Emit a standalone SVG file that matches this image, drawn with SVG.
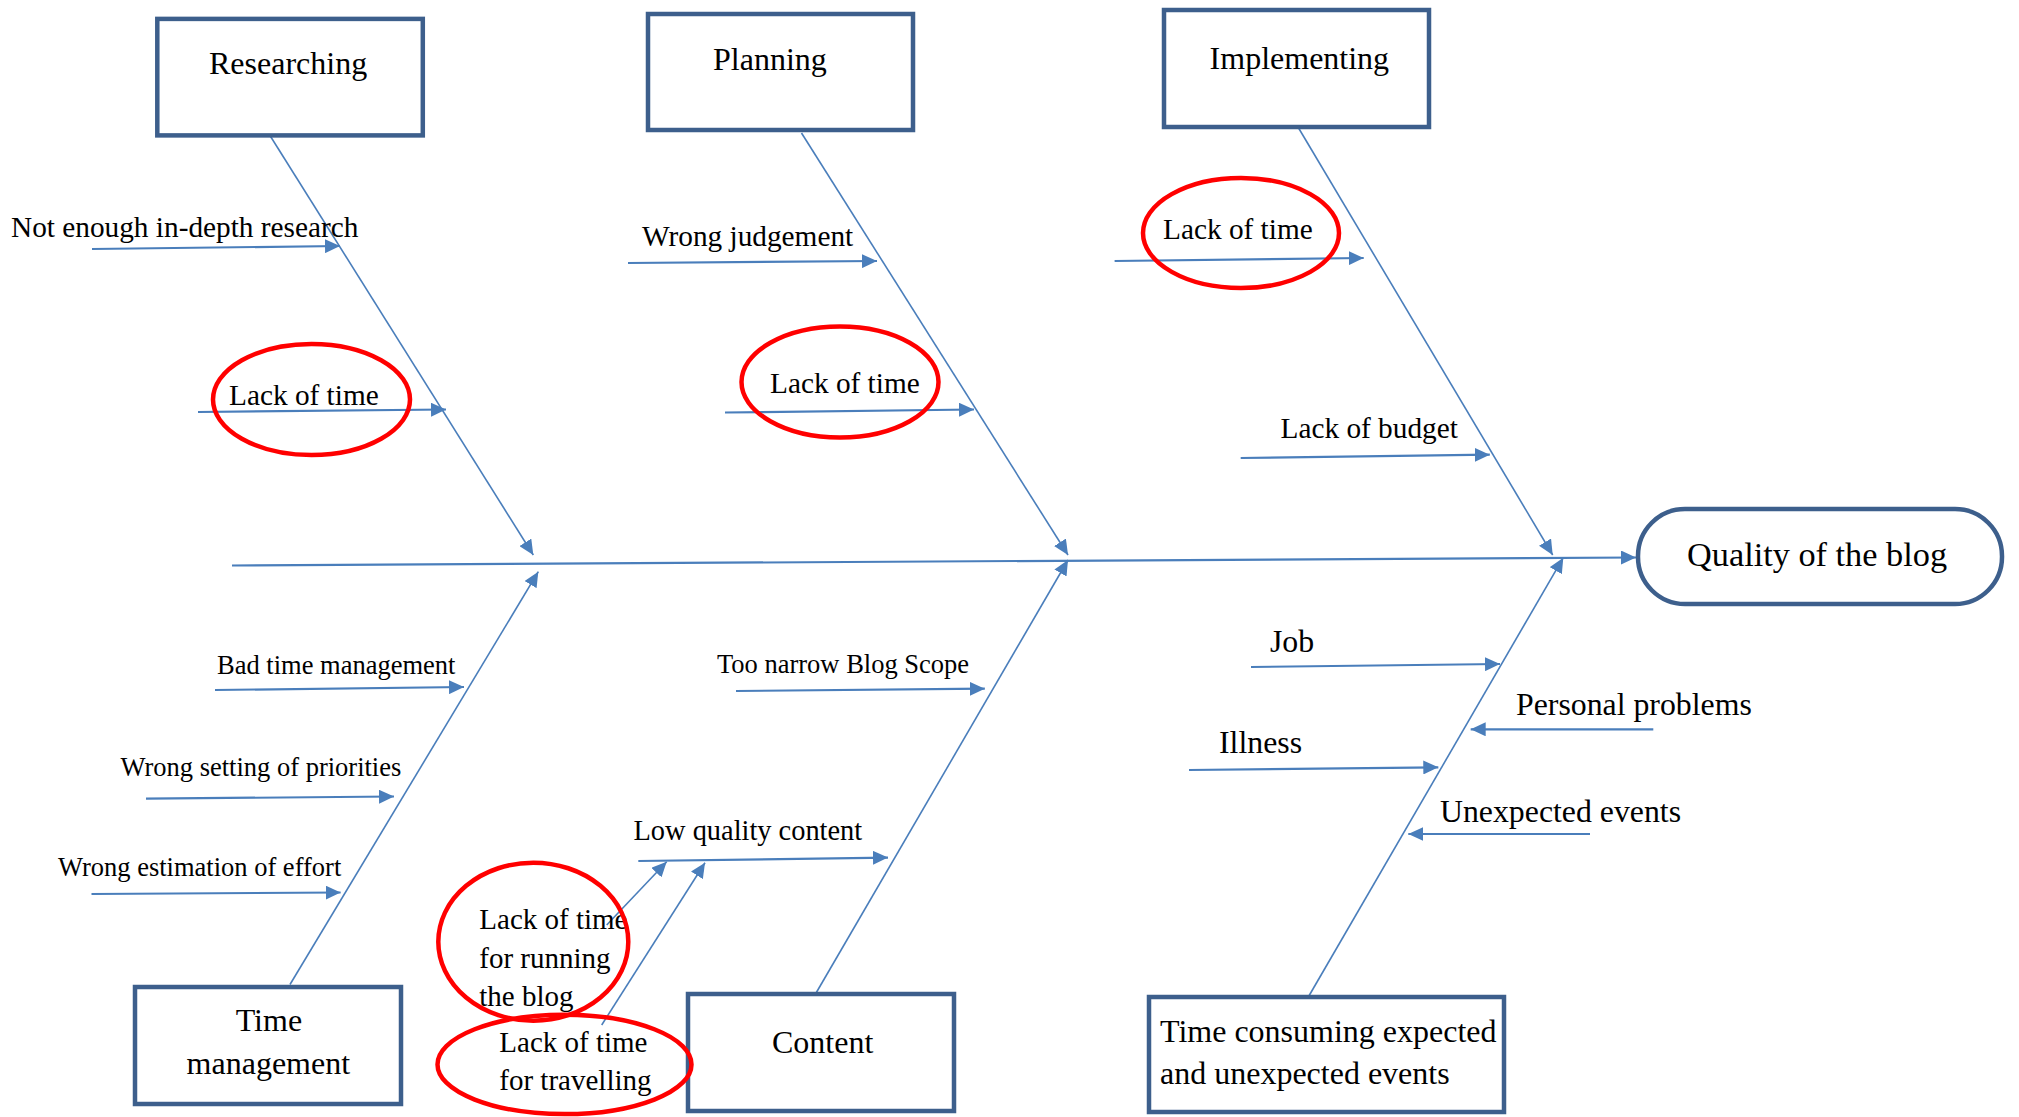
<svg xmlns="http://www.w3.org/2000/svg" width="2019" height="1117" viewBox="0 0 2019 1117">
<style>
.box{fill:#fff;stroke:#3D5F8C;stroke-width:4.5}
.lbl{font-family:"Liberation Serif","Times New Roman",serif;fill:#000}
.b32{font-size:32px}
.c29{font-size:29.3px}
.c26{font-size:26.5px}
.c32{font-size:31.8px}
.br{stroke:#4A7EBB;stroke-width:1.6;fill:none;marker-end:url(#ah)}
.ar{stroke:#4A7EBB;stroke-width:2.2;fill:none;marker-end:url(#ah)}
.red{fill:none;stroke:#FF0000;stroke-width:4.5}
</style>
<defs>
<marker id="ah" markerUnits="userSpaceOnUse" markerWidth="16" markerHeight="14" refX="15" refY="7" orient="auto">
<path d="M0,0 L15,7 L0,14 z" fill="#4A7EBB"/>
</marker>
</defs>
<rect width="2019" height="1117" fill="#fff"/>

<g id="connectors">
<line class="ar" x1="232" y1="565.5" x2="1636" y2="557.5"/>
<line class="br" x1="266.5" y1="130" x2="533.3" y2="555"/>
<line class="ar" x1="92" y1="249" x2="340" y2="246"/>
<line class="ar" x1="198" y1="412" x2="446" y2="409.5"/>
<line class="br" x1="801.5" y1="133" x2="1068" y2="555"/>
<line class="ar" x1="628" y1="263" x2="877" y2="261"/>
<line class="ar" x1="725" y1="412.5" x2="974" y2="409.5"/>
<line class="br" x1="1295" y1="122" x2="1552.7" y2="555"/>
<line class="ar" x1="1114.6" y1="261" x2="1363.7" y2="258"/>
<line class="ar" x1="1240.7" y1="458" x2="1489.8" y2="454.7"/>
<line class="br" x1="290" y1="984.5" x2="538.3" y2="571.7"/>
<line class="ar" x1="215" y1="690" x2="464" y2="687"/>
<line class="ar" x1="146" y1="798.7" x2="394" y2="796.5"/>
<line class="ar" x1="91.5" y1="894" x2="340.6" y2="892.5"/>
<line class="br" x1="812" y1="1000" x2="1068" y2="560"/>
<line class="ar" x1="736" y1="691" x2="984.8" y2="688.7"/>
<line class="ar" x1="638.3" y1="861" x2="888" y2="857.6"/>
<line class="br" x1="606.7" y1="925" x2="666.7" y2="861.7"/>
<line class="br" x1="601.7" y1="1025" x2="705" y2="862.7"/>
<line class="br" x1="1306" y1="1001" x2="1563.3" y2="557.7"/>
<line class="ar" x1="1251" y1="667" x2="1500" y2="664"/>
<line class="ar" x1="1653.3" y1="729.3" x2="1470.7" y2="729.3"/>
<line class="ar" x1="1189" y1="770" x2="1438.3" y2="767.3"/>
<line class="ar" x1="1590" y1="834" x2="1408.3" y2="834"/>
</g>

<g id="researching">
<rect class="box" x="157.3" y="18.9" width="265.5" height="116.5"/>
<text class="lbl b32" x="209" y="74">Researching</text>
</g>
<g id="planning">
<rect class="box" x="648" y="14" width="265" height="116"/>
<text class="lbl b32" x="713" y="70">Planning</text>
</g>
<g id="implementing">
<rect class="box" x="1164" y="10" width="265" height="117"/>
<text class="lbl b32" x="1209.6" y="69">Implementing</text>
</g>
<g id="time-management">
<rect class="box" x="135" y="987" width="266" height="117"/>
<text class="lbl b32" x="235.7" y="1031">Time</text>
<text class="lbl b32" x="186.6" y="1073.6">management</text>
</g>
<g id="content">
<rect class="box" x="688" y="994" width="266" height="117"/>
<text class="lbl b32" x="772" y="1053">Content</text>
</g>
<g id="time-consuming">
<rect class="box" x="1149" y="997" width="355" height="115"/>
<text class="lbl b32" x="1160" y="1042">Time consuming expected</text>
<text class="lbl b32" x="1160" y="1084">and unexpected events</text>
</g>
<g id="quality">
<rect class="box" x="1638" y="509" width="364" height="95" rx="47" ry="47"/>
<text class="lbl" font-size="34.3" x="1687" y="565.7">Quality of the blog</text>
</g>

<g id="causes">
<text class="lbl c29" x="11" y="237">Not enough in-depth research</text>
<text class="lbl c29" x="229" y="405">Lack of time</text>
<text class="lbl c29" x="642" y="246">Wrong judgement</text>
<text class="lbl c29" x="770" y="393">Lack of time</text>
<text class="lbl c29" x="1163" y="239">Lack of time</text>
<text class="lbl c29" x="1280.5" y="438">Lack of budget</text>
<text class="lbl c26" x="217" y="674">Bad time management</text>
<text class="lbl c26" x="120.5" y="775.5">Wrong setting of priorities</text>
<text class="lbl c26" x="58" y="875.6">Wrong estimation of effort</text>
<text class="lbl c26" x="717" y="673">Too narrow Blog Scope</text>
<text class="lbl" font-size="28.4" x="633.5" y="840">Low quality content</text>
<text class="lbl" font-size="29" x="479.3" y="929.3">Lack of time</text>
<text class="lbl" font-size="29" x="479.3" y="968.3">for running</text>
<text class="lbl" font-size="29" x="479.3" y="1005.7">the blog</text>
<text class="lbl" font-size="29" x="499.3" y="1051.7">Lack of time</text>
<text class="lbl" font-size="29" x="499.3" y="1090">for travelling</text>
<text class="lbl c32" x="1270" y="652">Job</text>
<text class="lbl c32" x="1516" y="715">Personal problems</text>
<text class="lbl c32" x="1219" y="753">Illness</text>
<text class="lbl c32" x="1440" y="821.7">Unexpected events</text>
</g>

<g id="highlights">
<ellipse class="red" cx="311.5" cy="399.5" rx="98.5" ry="55.5"/>
<ellipse class="red" cx="840" cy="382" rx="98.5" ry="55.5"/>
<ellipse class="red" cx="1241" cy="233" rx="98" ry="55"/>
<ellipse class="red" cx="533.3" cy="941.7" rx="95" ry="79"/>
<ellipse class="red" cx="564.5" cy="1064.4" rx="127" ry="49.7"/>
</g>
</svg>
